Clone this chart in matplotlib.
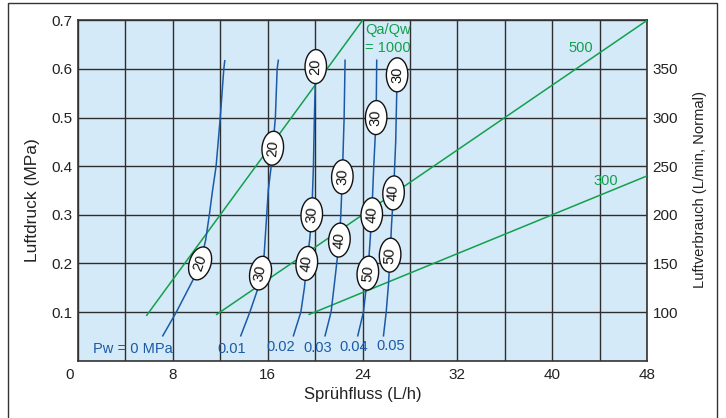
import numpy as np
import matplotlib
matplotlib.use("Agg")
import matplotlib.pyplot as plt
from matplotlib.patches import Ellipse, Rectangle
from matplotlib.transforms import ScaledTranslation

plt.rcParams['font.family'] = ['Liberation Sans', 'DejaVu Sans']

# ---------------- data ----------------
x_ticks = [0, 8, 16, 24, 32, 40, 48]
y_ticks = [0.1, 0.2, 0.3, 0.4, 0.5, 0.6, 0.7]
y2_ticks = [100, 150, 200, 250, 300, 350]

# water pressure curves (Sprühfluss L/h, Luftdruck MPa)
pw_names = ["Pw = 0 MPa", "0.01", "0.02", "0.03", "0.04", "0.05"]
pw0_x = [7.15, 8.3, 9.7, 10.3, 10.77, 11.08, 11.35, 11.65, 12.0, 12.3, 12.38]
pw0_y = [0.051, 0.1, 0.166, 0.2, 0.248, 0.3, 0.35, 0.4, 0.5, 0.6, 0.617]
pw1_x = [13.73, 14.5, 15.13, 15.4, 15.7, 15.92, 16.05, 16.3, 16.65, 16.8, 16.9]
pw1_y = [0.051, 0.1, 0.145, 0.18, 0.217, 0.3, 0.35, 0.4, 0.5, 0.6, 0.618]
pw2_x = [18.17, 18.8, 19.1, 19.3, 19.55, 19.72, 19.86, 19.94, 20.05, 20.08]
pw2_y = [0.051, 0.1, 0.15, 0.2, 0.25, 0.3, 0.4, 0.5, 0.6, 0.62]
pw3_x = [20.84, 21.35, 21.6, 22.05, 22.17, 22.3, 22.45, 22.53]
pw3_y = [0.051, 0.1, 0.152, 0.248, 0.3, 0.378, 0.5, 0.618]
pw4_x = [23.6, 24.08, 24.45, 24.65, 24.78, 24.95, 25.15, 25.2]
pw4_y = [0.051, 0.1, 0.18, 0.25, 0.3, 0.4, 0.5, 0.618]
pw5_x = [25.77, 26.0, 26.2, 26.33, 26.45, 26.62, 26.8, 26.92]
pw5_y = [0.051, 0.1, 0.16, 0.217, 0.28, 0.345, 0.45, 0.588]
pw_label_x = [4.63, 13.0, 17.07, 20.2, 23.25, 26.4]
pw_label_y = [0.024, 0.024, 0.028, 0.025, 0.028, 0.03]

# oval labels on the curves
oval_curve = [0, 1, 1, 2, 2, 2, 3, 3, 4, 4, 4, 5, 5, 5]
oval_y = [0.2, 0.18, 0.437, 0.2, 0.3, 0.605, 0.248, 0.378, 0.18, 0.3, 0.5, 0.217, 0.345, 0.588]
oval_text = ['20', '30', '20', '40', '30', '20', '40', '30', '50', '40', '30', '50', '40', '30']

# air/water ratio lines
ratio = [1000, 500, 300]
ratio_start_flow = [5.8, 11.7, 19.5]
ratio_end_flow = [24.0, 48.0, 48.0]
ratio_labels = ["Qa/Qw\n= 1000", "500", "300"]
ratio_label_x = [24.2, 42.4, 44.5]
ratio_label_y = [0.662, 0.643, 0.37]

BLUE = '#1b5aa6'
GREEN = '#12a04c'
BG = '#d5eaf8'
GRID = '#2e2e2e'

# ---------------- figure ----------------
W, H = 726, 418
fig = plt.figure(figsize=(W / 100, H / 100), dpi=100)
fig.patch.set_facecolor('white')
ax = fig.add_axes([78 / W, 1 - 360.6 / H, (647 - 78) / W, (360.6 - 20.4) / H])
ax.set_facecolor(BG)
ax.set_xlim(0, 48)
ax.set_ylim(0, 0.7)

ax.set_xticks(x_ticks)
ax.set_xticklabels([''] + [str(v) for v in x_ticks[1:]])
ax.set_xticks(np.arange(0, 49, 4), minor=True)
ax.set_yticks(y_ticks)
ax.set_yticklabels([f"{v:.1f}" for v in y_ticks])
ax.tick_params(which='both', length=0, labelsize=11, colors='#222222')
ax.tick_params(axis='x', pad=5)
ax.tick_params(axis='y', pad=4)
ax.grid(which='both', color=GRID, lw=1.0, zorder=1)
ax.set_axisbelow(True)
for s in ax.spines.values():
    s.set_color('#333333')
    s.set_linewidth(1.2)

ax.annotate('0', xy=(0, 0), xycoords='data', xytext=(-6, -5),
            textcoords='offset points', ha='center', va='top', fontsize=11,
            color='#222222', annotation_clip=False)

ax2 = ax.twinx()
ax2.set_ylim(50, 400)
ax2.set_yticks(y2_ticks)
ax2.tick_params(length=0, labelsize=11, colors='#222222', pad=4)
for s in ax2.spines.values():
    s.set_visible(False)

# ratio lines
for r, x0, x1, lab, lx, ly in zip(ratio, ratio_start_flow, ratio_end_flow,
                                  ratio_labels, ratio_label_x, ratio_label_y):
    xs = np.array([x0, x1])
    qa = r * xs / 60.0
    ys = (qa - 50) / 500.0
    ax.plot(xs, ys, color=GREEN, lw=1.1, zorder=3)
    ax.text(lx, ly, lab, color=GREEN, fontsize=10.5, ha='left' if '\n' in lab else 'center',
            va='center', linespacing=1.3, zorder=6)

curves = [(pw0_x, pw0_y), (pw1_x, pw1_y), (pw2_x, pw2_y),
          (pw3_x, pw3_y), (pw4_x, pw4_y), (pw5_x, pw5_y)]
for (cx, cy), name, lx, ly in zip(curves, pw_names, pw_label_x, pw_label_y):
    ax.plot(cx, cy, color=BLUE, lw=1.1, zorder=3)
    ax.text(lx, ly, name, color=BLUE, fontsize=10.5, ha='center', va='center', zorder=6)

# ovals
for ci, oy, txt in zip(oval_curve, oval_y, oval_text):
    cx, cy = curves[ci]
    ox = np.interp(oy, cy, cx)
    ya, yb = oy - 0.03, oy + 0.03
    pa = ax.transData.transform((np.interp(ya, cy, cx), ya))
    pb = ax.transData.transform((np.interp(yb, cy, cx), yb))
    ang = np.degrees(np.arctan2(pb[1] - pa[1], pb[0] - pa[0]))
    trans = fig.dpi_scale_trans + ScaledTranslation(ox, oy, ax.transData)
    e = Ellipse((0, 0), 0.34, 0.215, angle=ang, transform=trans,
                facecolor='white', edgecolor='#111111', lw=1.0, zorder=5, clip_on=False)
    ax.add_patch(e)
    ax.text(ox, oy, txt, rotation=ang, rotation_mode='anchor', ha='center',
            va='center', fontsize=10.5, color='#111111', zorder=6)

ax.set_xlim(0, 48)
ax.set_ylim(0, 0.7)

# axis labels
fig.text(362.5 / W, 1 - 394 / H, 'Sprühfluss (L/h)', ha='center', va='center',
         fontsize=12, color='#222222')
fig.text(33 / W, 1 - 200 / H, 'Luftdruck (MPa)', ha='center', va='center',
         rotation=90, fontsize=12.5, color='#222222')
fig.text(700 / W, 1 - 189 / H, 'Luftverbrauch (L/min, Normal)', ha='center',
         va='center', rotation=90, fontsize=10.6, color='#222222')

# outer frame
fig.add_artist(Rectangle((7.5 / W, -0.2), (717 - 7.5) / W, 1.2 - 2.5 / H,
                         transform=fig.transFigure, fill=False,
                         edgecolor='#333333', lw=1.0))

fig.savefig('out.png', dpi=100)
